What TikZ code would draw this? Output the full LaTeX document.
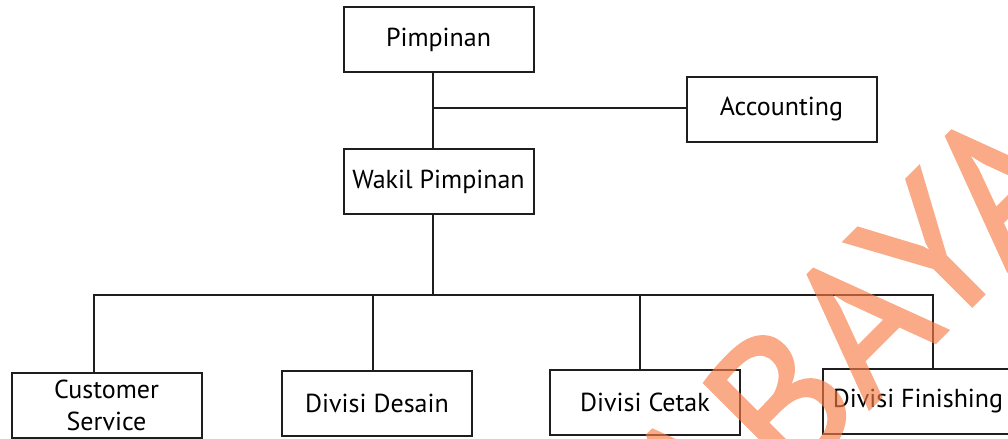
\documentclass[tikz,border=0pt]{standalone}
\usepackage{fontspec}
\setmainfont{PT Sans}
\newfontfamily\wmfont[FakeBold=1.6]{PT Sans}
\usetikzlibrary{positioning}

\definecolor{linegray}{RGB}{30,30,30}
\definecolor{wmorange}{RGB}{247,125,70}

\begin{document}
\begin{tikzpicture}[x=0.5pt,y=-0.5pt,
	orgbox/.style={draw=linegray,line width=1pt,fill=white,minimum width=95pt,minimum height=32.5pt,inner sep=0pt,align=center,font=\fontsize{13}{16}\selectfont},
	link/.style={draw=linegray,line width=1pt},
	wmark/.style={text=wmorange,rotate=45,inner sep=0pt,font=\wmfont\fontsize{97}{97}\selectfont}]
	\path[use as bounding box] (0,0) rectangle (1008,439);
	\clip (0,0) rectangle (1008,439);

	% pimpinan and staff
	\node[orgbox] (pim) at (438.5,39.5) {Pimpinan};
	\node[orgbox] (acc) at (781.5,109.5) {Accounting};
	\node[orgbox] (wakil) at (438.5,181.5) {Wakil Pimpinan};

	% divisi
	\node[orgbox] (cs) at (106.5,405.5) {Customer\\Service};
	\node[orgbox] (desain) at (377,403) {Divisi Desain};
	\node[orgbox] (cetak) at (645,402) {Divisi Cetak};
	\node[orgbox] (finish) at (918,401.5) {Divisi Finishing};

	\coordinate (tap) at (433,108);
	\coordinate (bus) at (433,295);
	\coordinate (dcs) at (94,295);
	\coordinate (dds) at (373,295);
	\coordinate (dct) at (640,295);
	\coordinate (dfn) at (933,295);

	\draw[link] (tap |- pim.south) -- (tap |- wakil.north);
	\draw[link] (tap) -- (tap -| acc.west);
	\draw[link] (bus |- wakil.south) -- (bus);
	\draw[link] (dcs |- cs.north) -- (dcs) -- (dfn) -- (dfn |- finish.north);
	\foreach \d/\n in {dds/desain,dct/cetak}
		\draw[link] (\d) -- (\d |- \n.north);

	% watermark
	\begin{scope}[transparency group,opacity=0.65]
		\coordinate (wmbase) at (788,490);
		\node[wmark,anchor=base west] (wmb) at (wmbase) {BAYA};
		\node[wmark,anchor=base east] (wma) at (wmbase) {SURA};
	\end{scope}
\end{tikzpicture}
\end{document}
